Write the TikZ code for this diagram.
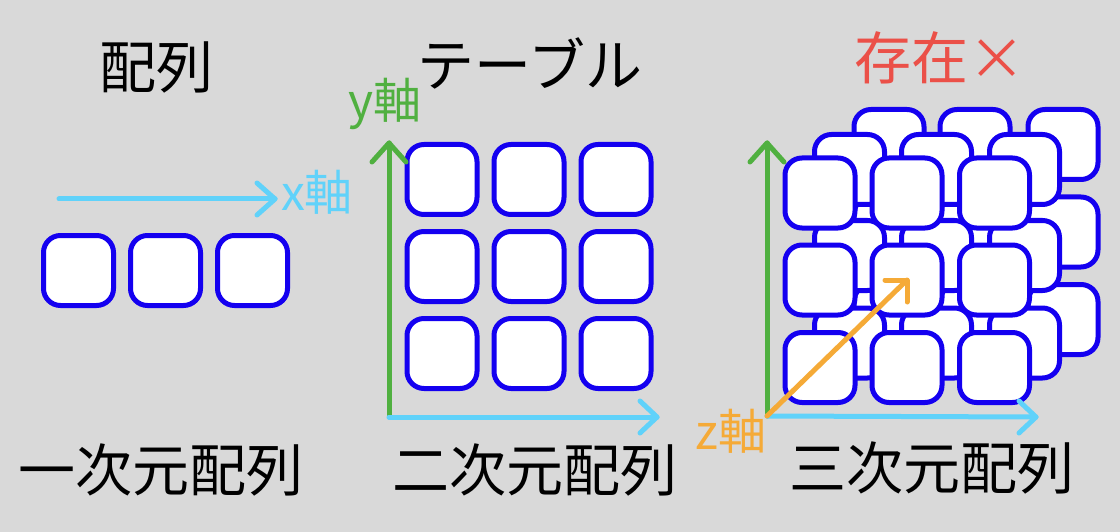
\documentclass[tikz,border=0pt]{standalone}
\usepackage{fontspec}
\setmainfont{Noto Sans CJK JP}
\definecolor{bg}{RGB}{217,217,217}
\definecolor{boxblue}{RGB}{20,0,240}
\definecolor{axblue}{RGB}{96,210,250}
\definecolor{axgreen}{RGB}{80,176,64}
\definecolor{axorange}{RGB}{245,170,55}
\definecolor{txtred}{RGB}{235,80,72}
\tikzset{
  cell/.style={rectangle, draw=boxblue, fill=white, line width=5pt, rounded corners=17pt,
    minimum width=70pt, minimum height=70pt, inner sep=0pt},
  axisline/.style={line width=5pt, line cap=round, line join=round},
  bigtext/.style={inner sep=0pt, font=\fontsize{57pt}{60pt}\selectfont},
  axtext/.style={inner sep=0pt, font=\fontsize{48pt}{52pt}\selectfont},
}
\begin{document}
\begin{tikzpicture}[x=1pt,y=-1pt]
\fill[bg] (0,0) rectangle (1120,532);
\useasboundingbox (0,0) rectangle (1120,532);

% titles
\node[bigtext] (t1) at (156,67) {配列};
\node[bigtext] (t2) at (530,63) {テーブル};
\node[bigtext, text=txtred] (t3) at (940,58) {存在×};
\node[bigtext] (s1) at (161,470) {一次元配列};
\node[bigtext] (s2) at (535,470) {二次元配列};
\node[bigtext] (s3) at (932,468) {三次元配列};

% 1D
\foreach \i/\x in {1/78.5,2/165.5,3/252.5}
  \node[cell] (a\i) at (\x,270.5) {};
\coordinate (x1s) at (59,199);
\coordinate (x1e) at (275,199);
\draw[axisline, axblue] (x1s) -- (x1e);
\draw[axisline, axblue] (x1e) ++(-18,-16) -- (x1e) -- ++(-18,16);
\node[axtext, text=axblue] (lx) at (317,192) {x軸};

% 2D
\foreach \i/\x in {1/442,2/529,3/616}
  \foreach \j/\y in {1/179.5,2/266.5,3/353.5}
    \node[cell] (b\i\j) at (\x,\y) {};
\coordinate (o2) at (389,417);
\coordinate (y2e) at (389,143);
\coordinate (x2e) at (657,417);
\draw[axisline, axgreen] (o2) -- (y2e);
\draw[axisline, axgreen] (y2e) ++(-17,19) -- (y2e) -- ++(17,19);
\draw[axisline, axblue] (o2) -- (x2e);
\draw[axisline, axblue] (x2e) ++(-17,-16) -- (x2e) -- ++(-17,16);
\node[axtext, text=axgreen] (ly) at (385,104) {y軸};

% 3D: back, middle, front layers
\foreach \i/\x in {1/889,2/975,3/1063}
  \foreach \j/\y in {1/144.5,2/232,3/319.5}
    \node[cell] (k\i\j) at (\x,\y) {};
\foreach \i/\x in {1/849.5,2/936.5,3/1024.5}
  \foreach \j/\y in {1/169.5,2/255.5,3/343}
    \node[cell] (m\i\j) at (\x,\y) {};
\foreach \i/\x in {1/820,2/907,3/994.5}
  \foreach \j/\y in {1/193,2/280,3/367.5}
    \node[cell] (f\i\j) at (\x,\y) {};
\coordinate (o3) at (767,416);
\coordinate (y3e) at (767,143);
\coordinate (x3e) at (1036,417);
\coordinate (z3e) at (f22.center);
\draw[axisline, axgreen] (o3) -- (y3e);
\draw[axisline, axgreen] (y3e) ++(-17,19) -- (y3e) -- ++(17,19);
\draw[axisline, axblue] (o3) -- (x3e);
\draw[axisline, axblue] (x3e) ++(-17,-16) -- (x3e) -- ++(-17,16);
\draw[axisline, axorange] (o3) -- (z3e);
\draw[axisline, axorange] (z3e) ++(-22,0) -- (z3e) -- ++(0,22);
\node[axtext, text=axorange] (lz) at (731,431) {z軸};
\end{tikzpicture}
\end{document}
